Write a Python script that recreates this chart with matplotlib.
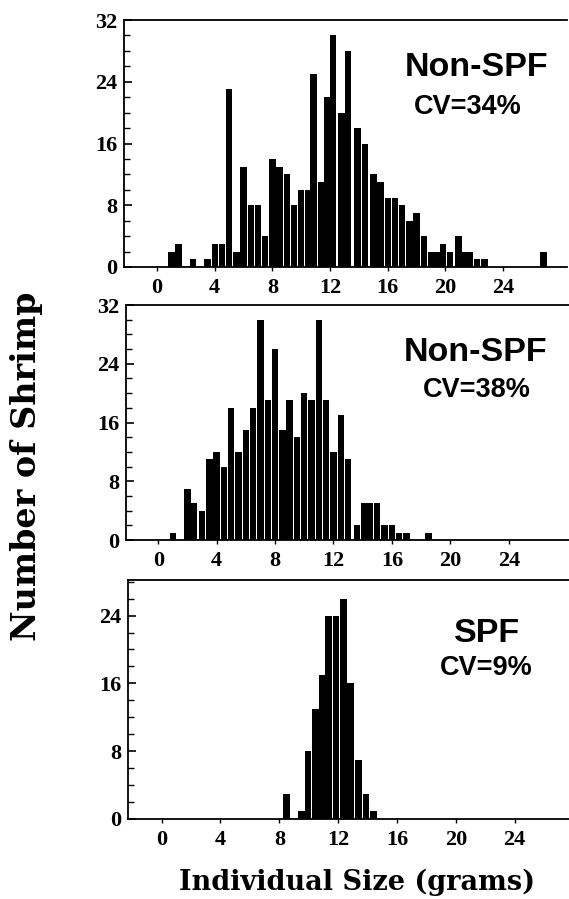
import matplotlib
matplotlib.use("Agg")
import matplotlib.pyplot as plt
from matplotlib.ticker import MultipleLocator

# ---- data (size in grams, number of shrimp) ----
p1_size = [1.0, 1.5, 2.5, 3.5, 4.0, 4.5, 5.0, 5.5, 6.0, 6.5, 7.0, 7.5, 8.0, 8.5,
           9.0, 9.5, 10.0, 10.5, 10.85, 11.35, 11.8, 12.2, 12.8, 13.25, 13.9,
           14.4, 15.0, 15.5, 16.0, 16.5, 17.0, 17.5, 18.0, 18.5, 19.0, 19.4,
           19.85, 20.3, 20.9, 21.3, 21.7, 22.2, 22.7, 26.8]
p1_count = [2, 3, 1, 1, 3, 3, 23, 2, 13, 8, 8, 4, 14, 13,
            12, 8, 10, 10, 25, 11, 22, 30, 20, 28, 18,
            16, 12, 11, 9, 9, 8, 6, 7, 4, 2, 2,
            3, 2, 4, 2, 2, 1, 1, 2]

p2_size = [1.0, 2.0, 2.45, 3.0, 3.5, 4.0, 4.5, 5.0, 5.5, 6.0, 6.5, 7.0, 7.5,
           8.0, 8.5, 9.0, 9.5, 10.0, 10.5, 11.0, 11.5, 12.0, 12.5, 13.0, 13.6,
           14.1, 14.5, 15.0, 15.5, 16.0, 16.5, 17.0, 18.5]
p2_count = [1, 7, 5, 4, 11, 12, 10, 18, 12, 15, 18, 30, 19,
            26, 15, 19, 14, 20, 19, 30, 19, 12, 17, 11, 2,
            5, 5, 5, 2, 2, 1, 1, 1]

p3_size = [8.5, 9.5, 9.95, 10.45, 10.9, 11.35, 11.85, 12.35, 12.85, 13.4, 13.9, 14.4]
p3_count = [3, 1, 8, 13, 17, 24, 24, 26, 16, 7, 3, 1]

x_ticks = [0, 4, 8, 12, 16, 20, 24]
y_ticks = [0, 8, 16, 24, 32]

titles = ["Non-SPF", "Non-SPF", "SPF"]
cvs = ["CV=34%", "CV=38%", "CV=9%"]

W, H = 569, 899
fig = plt.figure(figsize=(W / 100, H / 100), dpi=100)

def px_axes(l, r, t, b):
    return fig.add_axes([l / W, 1 - b / H, (r - l) / W, (b - t) / H])

panels = [
    (px_axes(124, 567, 20, 267), p1_size, p1_count, (-2.29, 28.43), 32.0),
    (px_axes(126, 569, 305, 540), p2_size, p2_count, (-2.21, 28.13), 32.0),
    (px_axes(128, 569, 580, 819), p3_size, p3_count, (-2.29, 27.7), 28.2),
]

for ax, xs, ys, xl, ytop in panels:
    ax.bar(xs, ys, width=0.44, color="black", edgecolor="none", align="center")
    ax.set_xlim(*xl)
    ax.set_ylim(0, ytop)
    ax.set_xticks(x_ticks)
    ax.set_yticks([t for t in y_ticks if t <= ytop])
    ax.yaxis.set_minor_locator(MultipleLocator(2))
    ax.tick_params(axis="y", which="major", direction="in", length=6, width=1.2, pad=5)
    ax.tick_params(axis="y", which="minor", direction="in", length=4, width=1.0)
    ax.tick_params(axis="x", which="major", direction="out", length=3, width=1.0, pad=5)
    for lab in ax.get_xticklabels() + ax.get_yticklabels():
        lab.set_fontfamily("Liberation Serif")
        lab.set_fontweight("bold")
        lab.set_fontsize(16)
    ax.spines["right"].set_visible(False)
    for s in ["left", "bottom", "top"]:
        ax.spines[s].set_linewidth(1.3)

# annotations (figure pixel positions)
ann = [((477, 67), (468, 107)), ((476, 352), (477, 390)), ((487, 634), (486, 668))]
for (t_xy, c_xy), title, cv in zip(ann, titles, cvs):
    fig.text(t_xy[0] / W, 1 - t_xy[1] / H, title, ha="center", va="center",
             family="Liberation Sans", weight="bold", fontsize=24.5)
    fig.text(c_xy[0] / W, 1 - c_xy[1] / H, cv, ha="center", va="center",
             family="Liberation Sans", weight="bold", fontsize=19.5)

fig.text(27 / W, 1 - 466 / H, "Number of Shrimp", rotation=90, ha="center", va="center",
         family="DejaVu Serif", weight="bold", fontsize=24)
fig.text(357 / W, 1 - 882 / H, "Individual Size (grams)", ha="center", va="center",
         family="DejaVu Serif", weight="bold", fontsize=19.5)

fig.savefig("out.png", dpi=100, facecolor="white")
